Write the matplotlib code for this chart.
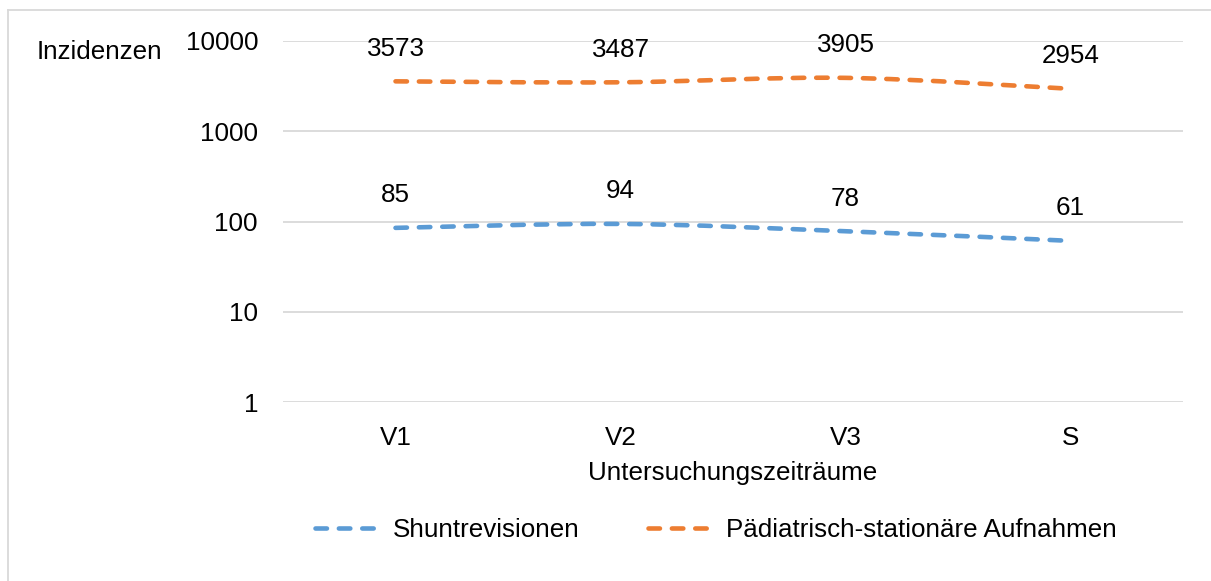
import matplotlib
matplotlib.use("Agg")
import matplotlib.pyplot as plt
import numpy as np
from matplotlib.path import Path
from matplotlib.patches import PathPatch
from matplotlib.lines import Line2D

plt.rcParams['font.family'] = ['Liberation Sans', 'DejaVu Sans']

categories = ["V1", "V2", "V3", "S"]
shunt = [85, 94, 78, 61]
paed = [3573, 3487, 3905, 2954]
series_names = ["Shuntrevisionen", "Pädiatrisch-stationäre Aufnahmen"]
colors = ["#5B9BD5", "#ED7D31"]
yticks = [1, 10, 100, 1000, 10000]

W, H = 1211, 581
FS = 18.7
fig = plt.figure(figsize=(W / 100, H / 100), dpi=100)
ax = fig.add_axes([283 / W, 1 - 402 / H, 900 / W, 361 / H])

ax.set_yscale('log')
ax.set_ylim(1, 10000)
ax.set_xlim(-0.5, len(categories) - 0.5)

LW = 3.3
DASH = (2.5, 2.6)


def smooth_path(xs, ys):
    # Bezier control points (Catmull-Rom style) in log space, drawn by matplotlib as a curve
    ly = np.log10(ys)
    pts = np.column_stack([xs, ly])
    n = len(pts)
    verts = [pts[0]]
    codes = [Path.MOVETO]
    for i in range(n - 1):
        p0 = pts[max(i - 1, 0)]
        p1 = pts[i]
        p2 = pts[i + 1]
        p3 = pts[min(i + 2, n - 1)]
        c1 = p1 + (p2 - p0) / 6.0
        c2 = p2 - (p3 - p1) / 6.0
        verts += [c1, c2, p2]
        codes += [Path.CURVE4] * 3
    verts = np.array(verts)
    verts[:, 1] = 10 ** verts[:, 1]
    return Path(verts, codes)


x = np.arange(len(categories))
for vals, col in zip([shunt, paed], colors):
    patch = PathPatch(smooth_path(x, vals), facecolor='none', edgecolor=col,
                      linewidth=LW, capstyle='round', joinstyle='round',
                      linestyle=(0, DASH), zorder=3)
    ax.add_patch(patch)
    for xi, v in zip(x, vals):
        ax.annotate(str(v), (xi, v), xytext=(0, 23.5), textcoords='offset points',
                    ha='center', va='center', fontsize=FS, color='#000000')

ax.set_yticks(yticks)
ax.set_yticklabels([str(t) for t in yticks])
ax.yaxis.set_minor_locator(matplotlib.ticker.NullLocator())
ax.set_xticks(x)
ax.set_xticklabels(categories)
ax.tick_params(axis='both', length=0, labelsize=FS, colors='#000000')
ax.tick_params(axis='y', pad=18)
ax.tick_params(axis='x', pad=17.5)
ax.grid(axis='y', color='#D9D9D9', linewidth=1.3)
ax.set_axisbelow(True)
for s in ax.spines.values():
    s.set_visible(False)

fig.text(162 / W, 1 - 52 / H, "Inzidenzen", ha='right', va='center', fontsize=FS)
fig.text(733 / W, 1 - 473 / H, "Untersuchungszeiträume", ha='center', va='center', fontsize=FS)

handles = [Line2D([0], [0], color=c, linewidth=LW, linestyle=(0, DASH),
                  dash_capstyle='round') for c in colors]
fig.legend(handles, series_names, loc='center', bbox_to_anchor=(716 / W, 1 - 530 / H),
           ncol=2, frameon=False, fontsize=FS, handlelength=2.4, handletextpad=0.6,
           columnspacing=2.65)

# outer border lines
fig.add_artist(Line2D([7.5 / W, 7.5 / W], [0, 1 - 9.5 / H], color='#D9D9D9', linewidth=1.3,
                      transform=fig.transFigure))
fig.add_artist(Line2D([7.5 / W, 1], [1 - 9.5 / H, 1 - 9.5 / H], color='#D9D9D9', linewidth=1.3,
                      transform=fig.transFigure))

fig.savefig("out.png", dpi=100)
